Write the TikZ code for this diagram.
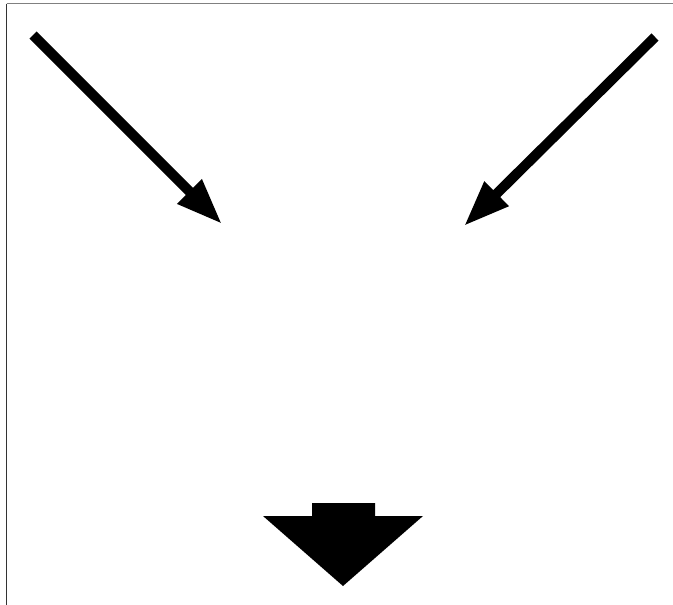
\documentclass[tikz,border=0pt]{standalone}
\usetikzlibrary{arrows.meta}
\begin{document}
\begin{tikzpicture}[x=1pt,y=-1pt,
  bigarrow/.style={line width=10pt,-{Triangle[length=46pt,width=32pt]}},
  frametop/.style={draw=black!50,line width=1.6pt},
  frameleft/.style={draw=black!80,line width=1.6pt}]
\useasboundingbox (0,0) rectangle (673,605);
\fill[white] (0,0) rectangle (673,605);
\coordinate (tl) at (6.5,3.5);
\coordinate (tr) at (673,3.5);
\coordinate (bl) at (6.5,605);
\draw[frametop] (tl) -- (tr);
\draw[frameleft] (tl) -- (bl);
\coordinate (a1s) at (33,35);
\coordinate (a1e) at (222,224);
\coordinate (a2s) at (655,37);
\coordinate (a2e) at (464,226);
\draw[bigarrow] (a1s) -- (a1e);
\draw[bigarrow] (a2s) -- (a2e);
\fill[black] (312,503) -- (375,503) -- (375,516) -- (423,516) -- (343,586) -- (263,516) -- (312,516) -- cycle;
\end{tikzpicture}
\end{document}
